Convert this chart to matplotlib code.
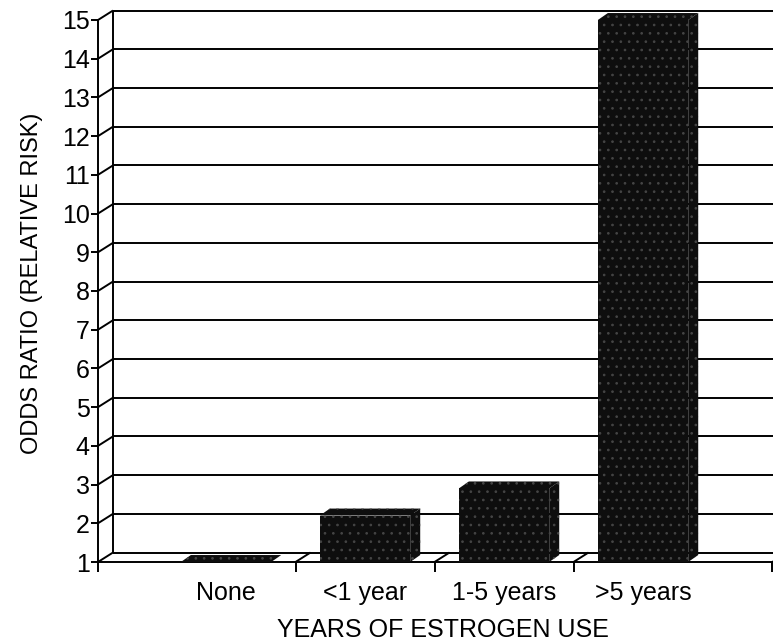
import matplotlib.pyplot as plt
from matplotlib.patches import Polygon

categories = ['None', '<1 year', '1-5 years', '>5 years']
odds_ratio = [1.0, 2.2, 2.9, 15.0]
y_ticks = list(range(1, 16))

plt.rcParams['font.family'] = ['Liberation Sans', 'DejaVu Sans']
plt.rcParams['hatch.linewidth'] = 0.7

fig = plt.figure(figsize=(7.73, 6.42), dpi=100)
ax = fig.add_axes([98 / 773, 80 / 642, 675 / 773, 542 / 642])
x_left, x_right = -0.921, 3.935
ax.set_xlim(x_left, x_right)
ax.set_ylim(1, 15)

# fake 3D: depth of the back wall and of each bar, in data units
wall_dx, wall_dy = 0.108, 0.245
bar_dx, bar_dy = 0.072, 0.18
bar_w = 0.65
line_kw = dict(color='black', lw=1.4, clip_on=False, solid_capstyle='butt')

# back wall gridlines, with the short diagonals back from the front axis
for k in y_ticks:
    ax.plot([x_left + wall_dx, x_right + 0.5], [k + wall_dy] * 2, zorder=1, **line_kw)
    ax.plot([x_left, x_left + wall_dx], [k, k + wall_dy], zorder=1, **line_kw)
ax.plot([x_left + wall_dx] * 2, [1 + wall_dy, 15 + wall_dy], zorder=1, **line_kw)

# floor dividers between categories
dividers = [x_left, 0.5, 1.5, 2.5, 3.93]
for b in dividers[1:]:
    ax.plot([b, b + wall_dx], [1, 1 + wall_dy], zorder=1, **line_kw)

bar_kw = dict(facecolor='#0e0e0e', edgecolor='#454545', lw=0, hatch='..', clip_on=False, zorder=3)
xs = list(range(len(categories)))
ax.bar(xs, [v - 1 for v in odds_ratio], bottom=1, width=bar_w, **bar_kw)
for x, v in zip(xs, odds_ratio):
    xl, xr = x - bar_w / 2, x + bar_w / 2
    top = [(xl, v), (xr, v), (xr + bar_dx, v + bar_dy), (xl + bar_dx, v + bar_dy)]
    side = [(xr, 1), (xr + bar_dx, 1 + bar_dy), (xr + bar_dx, v + bar_dy), (xr, v)]
    ax.add_patch(Polygon(top, closed=True, **bar_kw))
    ax.add_patch(Polygon(side, closed=True, **bar_kw))

for s in ['top', 'right']:
    ax.spines[s].set_visible(False)
for s in ['left', 'bottom']:
    ax.spines[s].set_linewidth(1.4)

ax.set_yticks(y_ticks)
ax.tick_params(axis='y', direction='out', length=5, width=1.4, pad=1, labelsize=18)
ax.set_xticks(xs, categories)
ax.tick_params(axis='x', which='major', length=0, pad=14, labelsize=18)
ax.set_xticks(dividers, minor=True)
ax.tick_params(axis='x', which='minor', direction='out', length=7, width=1.4)

ax.set_ylabel('ODDS RATIO (RELATIVE RISK)', fontsize=17)
ax.yaxis.set_label_coords(-0.0815, 0.515)
ax.set_xlabel('YEARS OF ESTROGEN USE', fontsize=18)
ax.xaxis.set_label_coords(0.511, -0.103)

fig.savefig('out.png', dpi=100)
